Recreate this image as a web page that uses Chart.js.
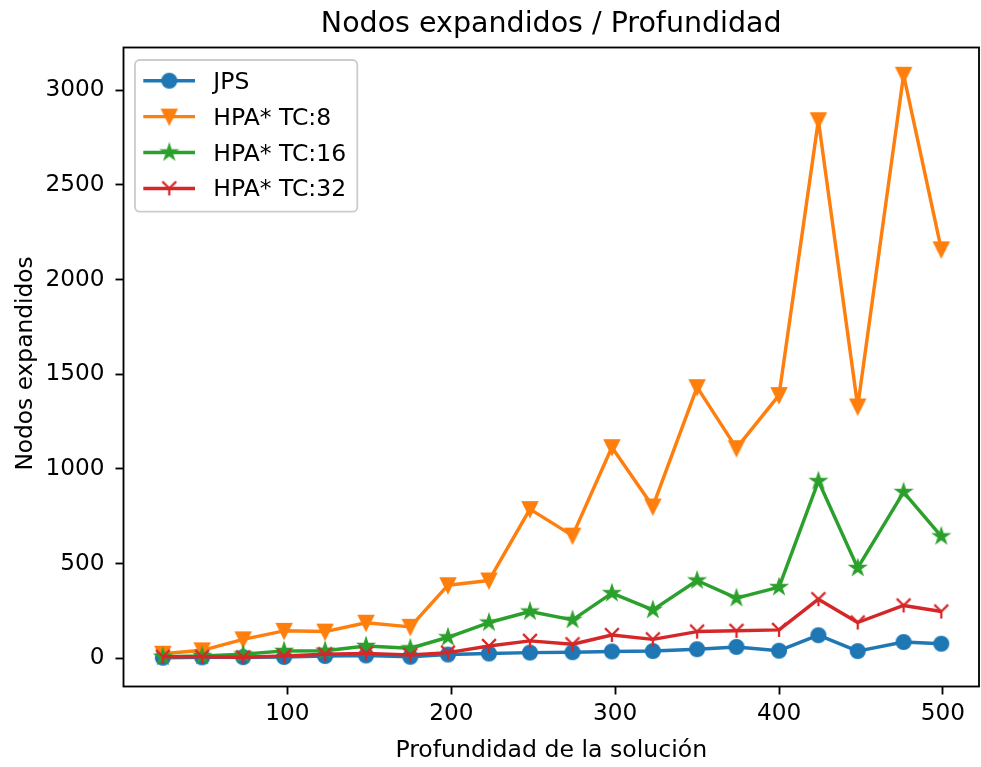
<!DOCTYPE html>
<html>
<head>
<meta charset="utf-8">
<script src="https://cdn.jsdelivr.net/npm/chart.js@4.4.1/dist/chart.umd.min.js"></script>
<style>
  html, body { margin: 0; padding: 0; background: #ffffff; }
  #c { display: block; }
</style>
</head>
<body>
<canvas id="c" width="981" height="767"></canvas>
<script>
// ---- data ----
const depths = [24, 48, 73, 98, 123, 148, 175, 198, 223, 248, 274, 298, 323, 350, 374, 400, 424, 448, 476, 499];
const jps    = [3, 5, 6, 7, 12, 15, 8, 20, 25, 30, 32, 36, 38, 48, 60, 40, 122, 38, 86, 77];
const hpa8   = [24, 42, 100, 145, 141, 188, 166, 386, 411, 788, 648, 1115, 802, 1432, 1110, 1390, 2842, 1330, 3082, 2160];
const hpa16  = [8, 12, 21, 39, 40, 65, 53, 111, 189, 247, 203, 344, 256, 411, 318, 376, 936, 477, 878, 644];
const hpa32  = [8, 8, 5, 12, 21, 26, 17, 30, 65, 92, 74, 123, 100, 141, 145, 150, 312, 189, 279, 247];
const seriesNames = ['JPS', 'HPA* TC:8', 'HPA* TC:16', 'HPA* TC:32'];
const xTicks = [100, 200, 300, 400, 500];
const yTicks = [0, 500, 1000, 1500, 2000, 2500, 3000];
const yTitle = 'Nodos expandidos';

const FONT = "'DejaVu Sans', 'Liberation Sans', sans-serif";
const colors = ['#1f77b4', '#ff7f0e', '#2ca02c', '#d62728'];
const MS = 13.8;   // marker size px
const MEW = 2.3;   // marker edge width px

function makeMarker(kind, color) {
  const c = document.createElement('canvas');
  c.width = 30; c.height = 30;
  const g = c.getContext('2d');
  g.translate(15, 15);
  g.fillStyle = color; g.strokeStyle = color; g.lineWidth = MEW;
  g.lineJoin = 'miter'; g.lineCap = 'butt';
  const h = MS / 2;
  g.beginPath();
  if (kind === 'circle') {
    g.arc(0, 0, h, 0, Math.PI * 2);
    g.fill(); g.stroke();
  } else if (kind === 'tridown') {
    g.moveTo(0, h); g.lineTo(-h, -h); g.lineTo(h, -h); g.closePath();
    g.fill(); g.stroke();
  } else if (kind === 'star') {
    const inner = h * 0.381966;
    for (let i = 0; i < 10; i++) {
      const r = i % 2 === 0 ? h : inner;
      const a = -Math.PI / 2 + i * Math.PI / 5;
      const px = Math.cos(a) * r, py = Math.sin(a) * r;
      if (i === 0) g.moveTo(px, py); else g.lineTo(px, py);
    }
    g.closePath(); g.fill(); g.stroke();
  } else if (kind === 'y') {
    g.moveTo(0, 0); g.lineTo(0, h);
    g.moveTo(0, 0); g.lineTo(-h, -h);
    g.moveTo(0, 0); g.lineTo(h, -h);
    g.stroke();
  }
  return c;
}
const markers = [
  makeMarker('circle', colors[0]),
  makeMarker('tridown', colors[1]),
  makeMarker('star', colors[2]),
  makeMarker('y', colors[3])
];
const allSeries = [jps, hpa8, hpa16, hpa32];

const datasets = allSeries.map((vals, i) => ({
  label: seriesNames[i],
  data: depths.map((d, k) => ({ x: d, y: vals[k] })),
  showLine: true,
  borderColor: colors[i],
  backgroundColor: colors[i],
  borderWidth: 3.45,
  borderJoinStyle: 'round',
  tension: 0,
  pointStyle: markers[i],
  pointRadius: 7,
  pointHoverRadius: 7,
  order: 3 - i
}));

const framePlugin = {
  id: 'frame',
  afterDatasetsDraw(chart) {
    const { ctx, chartArea: a } = chart;
    ctx.save();
    ctx.strokeStyle = '#000';
    ctx.lineWidth = 1.84;
    ctx.lineJoin = 'miter';
    ctx.strokeRect(a.left, a.top, a.right - a.left, a.bottom - a.top);
    // y-axis title
    ctx.translate(25.5, (a.top + a.bottom) / 2 - 3.5);
    ctx.rotate(-Math.PI / 2);
    ctx.font = '23.3px ' + FONT;
    ctx.fillStyle = '#000';
    ctx.textAlign = 'center';
    ctx.textBaseline = 'middle';
    ctx.fillText(yTitle, 0, 0);
    ctx.restore();
  }
};

const legendPlugin = {
  id: 'mplLegend',
  afterDraw(chart) {
    const { ctx, chartArea: a } = chart;
    const bx = a.left + 11.5, by = a.top + 12.5, bw = 222.3, bh = 151.7, r = 4.6;
    ctx.save();
    ctx.beginPath();
    ctx.moveTo(bx + r, by);
    ctx.lineTo(bx + bw - r, by); ctx.arcTo(bx + bw, by, bx + bw, by + r, r);
    ctx.lineTo(bx + bw, by + bh - r); ctx.arcTo(bx + bw, by + bh, bx + bw - r, by + bh, r);
    ctx.lineTo(bx + r, by + bh); ctx.arcTo(bx, by + bh, bx, by + bh - r, r);
    ctx.lineTo(bx, by + r); ctx.arcTo(bx, by, bx + r, by, r);
    ctx.closePath();
    ctx.fillStyle = 'rgba(255,255,255,0.8)';
    ctx.fill();
    ctx.strokeStyle = '#cccccc';
    ctx.lineWidth = 1.84;
    ctx.stroke();
    ctx.font = '23.5px ' + FONT;
    ctx.textBaseline = 'alphabetic';
    ctx.textAlign = 'left';
    for (let i = 0; i < seriesNames.length; i++) {
      const ry = by + 20.7 + i * 35.9;
      ctx.beginPath();
      ctx.strokeStyle = colors[i];
      ctx.lineWidth = 3.45;
      ctx.lineCap = 'butt';
      ctx.moveTo(bx + 8.3, ry); ctx.lineTo(bx + 60, ry);
      ctx.stroke();
      const m = markers[i];
      ctx.drawImage(m, bx + 34.3 - m.width / 2, ry - m.height / 2);
      ctx.fillStyle = '#000';
      ctx.fillText(seriesNames[i], bx + 78.3, ry + 8.0);
    }
    ctx.restore();
  }
};

new Chart(document.getElementById('c'), {
  type: 'scatter',
  data: { datasets },
  plugins: [framePlugin, legendPlugin],
  options: {
    responsive: false,
    animation: false,
    devicePixelRatio: 1,
    layout: { autoPadding: false, padding: { left: 0, right: 2, top: 0, bottom: 0 } },
    plugins: {
      legend: { display: false },
      tooltip: { enabled: false },
      title: {
        display: true,
        text: 'Nodos expandidos / Profundidad',
        fullSize: false,
        color: '#000',
        font: { family: FONT, size: 28.5, weight: 'normal', lineHeight: 1.2 },
        padding: { top: 7.4, bottom: 5.9 }
      }
    },
    scales: {
      x: {
        type: 'linear',
        min: 0,
        max: 522,
        afterBuildTicks: s => { s.ticks = xTicks.map(v => ({ value: v })); },
        afterFit: s => { s.height = 80.5; s.paddingLeft = 0; s.paddingRight = 0; },
        border: { display: false },
        grid: { display: true, drawOnChartArea: false, drawTicks: true, tickLength: 8, tickWidth: 1.84, tickColor: '#000' },
        ticks: { color: '#000', padding: 6, font: { family: FONT, size: 23.2 }, callback: v => String(v), maxRotation: 0 },
        title: { display: true, text: 'Profundidad de la solución', color: '#000', font: { family: FONT, size: 23.6, lineHeight: 1.2 }, padding: { top: 0, bottom: 2.2 } }
      },
      y: {
        type: 'linear',
        min: -149,
        max: 3226,
        afterBuildTicks: s => { s.ticks = yTicks.map(v => ({ value: v })); },
        afterFit: s => { s.width = 123.5; s.paddingTop = 0; s.paddingBottom = 0; },
        border: { display: false },
        grid: { display: true, drawOnChartArea: false, drawTicks: true, tickLength: 8, tickWidth: 1.84, tickColor: '#000' },
        ticks: { color: '#000', padding: 11, font: { family: FONT, size: 23.2 }, callback: v => String(v) },
        title: { display: false }
      }
    }
  }
});
</script>
</body>
</html>
